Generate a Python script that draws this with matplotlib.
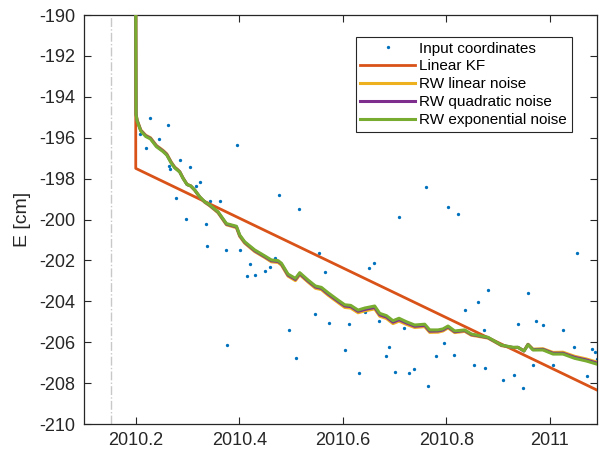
import matplotlib
matplotlib.use("Agg")
import matplotlib.pyplot as plt
from matplotlib.ticker import FuncFormatter

plt.rcParams['font.family'] = ['Liberation Sans', 'DejaVu Sans']
plt.rcParams['axes.unicode_minus'] = False

# observed east coordinate (decimal year, cm)
obs_t = [2010.2077, 2010.2203, 2010.2284, 2010.2450, 2010.2618, 2010.2641, 2010.2671,
         2010.2779, 2010.2860, 2010.2972, 2010.3049, 2010.3163, 2010.3243, 2010.3353,
         2010.3385, 2010.3434, 2010.3629, 2010.3739, 2010.3764, 2010.3957, 2010.4010,
         2010.4151, 2010.4203, 2010.4313, 2010.4506, 2010.4589, 2010.4700, 2010.4777,
         2010.4966, 2010.5105, 2010.5164, 2010.5465, 2010.5550, 2010.5652, 2010.5735,
         2010.6039, 2010.6122, 2010.6315, 2010.6429, 2010.6508, 2010.6613, 2010.6696,
         2010.6837, 2010.6889, 2010.7001, 2010.7082, 2010.7192, 2010.7272, 2010.7386,
         2010.7604, 2010.7656, 2010.7797, 2010.7956, 2010.8035, 2010.8149, 2010.8228,
         2010.8371, 2010.8535, 2010.8615, 2010.8725, 2010.8758, 2010.8808, 2010.9107,
         2010.9301, 2010.9386, 2010.9492, 2010.9571, 2010.9685, 2010.9736, 2010.9871,
         2011.0064, 2011.0261, 2011.0479, 2011.0531, 2011.0721, 2011.0827, 2011.0879,
         2011.0914]
obs_e = [-195.83, -196.49, -195.06, -196.07, -195.37, -197.39, -197.54,
         -198.96, -197.11, -199.98, -197.42, -198.36, -198.15, -200.22,
         -201.28, -199.11, -199.09, -201.51, -206.14, -196.36, -201.48,
         -202.75, -202.17, -202.71, -202.52, -202.31, -201.86, -198.79,
         -205.38, -206.79, -199.50, -204.64, -201.65, -202.56, -205.06,
         -206.37, -205.10, -207.52, -204.53, -202.39, -202.14, -204.97,
         -206.69, -206.23, -207.47, -199.86, -205.32, -207.49, -207.32,
         -198.40, -208.13, -206.68, -206.02, -199.40, -206.64, -199.73,
         -204.42, -207.13, -204.01, -205.41, -207.27, -203.46, -207.86,
         -207.62, -205.12, -208.26, -203.57, -207.11, -204.95, -205.14,
         -207.11, -205.40, -206.23, -201.65, -207.63, -206.32, -206.48,
         -206.84]

# linear Kalman filter
kf_t = [2010.2, 2010.2, 2011.0914]
kf_e = [-190.0, -197.50, -208.34]

# random-walk filters
rw_t = [2010.2000, 2010.2006, 2010.2025, 2010.2097, 2010.2193, 2010.2284, 2010.2400,
        2010.2528, 2010.2599, 2010.2686, 2010.2754, 2010.2812, 2010.2850, 2010.2914,
        2010.2991, 2010.3063, 2010.3140, 2010.3237, 2010.3333, 2010.3430, 2010.3590,
        2010.3753, 2010.3946, 2010.4010, 2010.4106, 2010.4300, 2010.4493, 2010.4622,
        2010.4750, 2010.4816, 2010.4943, 2010.5086, 2010.5169, 2010.5330, 2010.5472,
        2010.5588, 2010.5716, 2010.5909, 2010.6039, 2010.6155, 2010.6296, 2010.6425,
        2010.6618, 2010.6715, 2010.6844, 2010.6972, 2010.7088, 2010.7231, 2010.7391,
        2010.7585, 2010.7681, 2010.7842, 2010.7938, 2010.8035, 2010.8164, 2010.8357,
        2010.8487, 2010.8584, 2010.8808, 2010.9067, 2010.9291, 2010.9387, 2010.9503,
        2010.9581, 2010.9677, 2010.9870, 2011.0064, 2011.0257, 2011.0483, 2011.0709,
        2011.0908]
rw_lin = [-190.00, -194.84, -195.12, -195.62, -195.88, -196.00, -196.38,
          -196.62, -196.79, -197.19, -197.44, -197.56, -197.66, -197.97,
          -198.28, -198.36, -198.57, -198.91, -199.16, -199.33, -199.67,
          -200.26, -200.40, -200.83, -201.16, -201.57, -201.86, -202.07,
          -202.10, -202.23, -202.77, -202.99, -202.70, -203.06, -203.36,
          -203.43, -203.70, -204.06, -204.30, -204.33, -204.56, -204.47,
          -204.37, -204.73, -204.84, -205.09, -204.97, -205.13, -205.28,
          -205.24, -205.52, -205.51, -205.45, -205.30, -205.53, -205.47,
          -205.66, -205.70, -205.80, -206.17, -206.27, -206.26, -206.42,
          -206.10, -206.34, -206.32, -206.50, -206.49, -206.69, -206.82,
          -206.97]
rw_quad = [-190.00, -194.85, -195.15, -195.65, -195.91, -196.03, -196.41,
           -196.65, -196.82, -197.22, -197.46, -197.58, -197.67, -197.98,
           -198.29, -198.36, -198.56, -198.90, -199.14, -199.31, -199.64,
           -200.23, -200.36, -200.79, -201.12, -201.53, -201.82, -202.02,
           -202.05, -202.18, -202.72, -202.93, -202.65, -203.01, -203.30,
           -203.37, -203.64, -204.00, -204.23, -204.26, -204.49, -204.40,
           -204.30, -204.66, -204.77, -205.02, -204.90, -205.06, -205.22,
           -205.18, -205.46, -205.45, -205.40, -205.25, -205.49, -205.43,
           -205.63, -205.67, -205.78, -206.15, -206.26, -206.25, -206.43,
           -206.11, -206.36, -206.35, -206.54, -206.54, -206.74, -206.87,
           -207.02]
rw_exp = [-190.00, -194.86, -195.18, -195.67, -195.94, -196.06, -196.44,
          -196.68, -196.85, -197.24, -197.48, -197.60, -197.68, -197.99,
          -198.29, -198.36, -198.56, -198.89, -199.13, -199.29, -199.62,
          -200.20, -200.33, -200.76, -201.09, -201.49, -201.78, -201.98,
          -202.01, -202.14, -202.67, -202.88, -202.60, -202.96, -203.25,
          -203.32, -203.58, -203.94, -204.17, -204.20, -204.43, -204.33,
          -204.23, -204.59, -204.70, -204.95, -204.83, -205.00, -205.16,
          -205.12, -205.40, -205.40, -205.35, -205.21, -205.45, -205.40,
          -205.60, -205.65, -205.76, -206.14, -206.25, -206.25, -206.43,
          -206.12, -206.38, -206.38, -206.58, -206.58, -206.79, -206.92,
          -207.07]

t_start = 2010.152
x_ticks = [2010.2, 2010.4, 2010.6, 2010.8, 2011.0]
y_ticks = list(range(-210, -189, 2))

fig = plt.figure(figsize=(6.01, 4.53), dpi=100)
ax = fig.add_axes([84 / 601, 1 - 424 / 453, 513 / 601, 409 / 453])

ax.axvline(t_start, color='#c8c8c8', lw=1.0, ls='-.', zorder=1)
ax.plot(obs_t, obs_e, 'o', ms=2.4, mec='none', color='#0072BD',
        label='Input coordinates', zorder=2)
ax.plot(kf_t, kf_e, color='#D95319', lw=2.0, label='Linear KF', zorder=3)
ax.plot(rw_t, rw_lin, color='#EDB120', lw=2.2, label='RW linear noise', zorder=4)
ax.plot(rw_t, rw_quad, color='#7E2F8E', lw=2.2, label='RW quadratic noise', zorder=5)
ax.plot(rw_t, rw_exp, color='#77AC30', lw=2.2, label='RW exponential noise', zorder=6)

ax.set_xlim(2010.1, 2011.0914)
ax.set_ylim(-210, -190)
ax.set_xticks(x_ticks)
ax.set_yticks(y_ticks)
ax.xaxis.set_major_formatter(FuncFormatter(lambda v, p: '%g' % round(v, 1)))
ax.yaxis.set_major_formatter(FuncFormatter(lambda v, p: '%d' % v))
ax.tick_params(direction='in', length=5, width=0.8, colors='#262626',
               labelsize=13, top=True, right=True, pad=6)
for s in ax.spines.values():
    s.set_color('#262626')
    s.set_linewidth(0.9)
ax.set_ylabel('E [cm]', fontsize=14, color='#262626', labelpad=6)

leg = ax.legend(loc='upper left', bbox_to_anchor=(0.530, 0.946), borderaxespad=0,
                fontsize=11, handlelength=3.6, handletextpad=0.25, labelspacing=0.25,
                borderpad=0.3, fancybox=False, framealpha=1, edgecolor='#262626')
leg.get_frame().set_linewidth(0.8)

fig.savefig('out.png', dpi=100)
